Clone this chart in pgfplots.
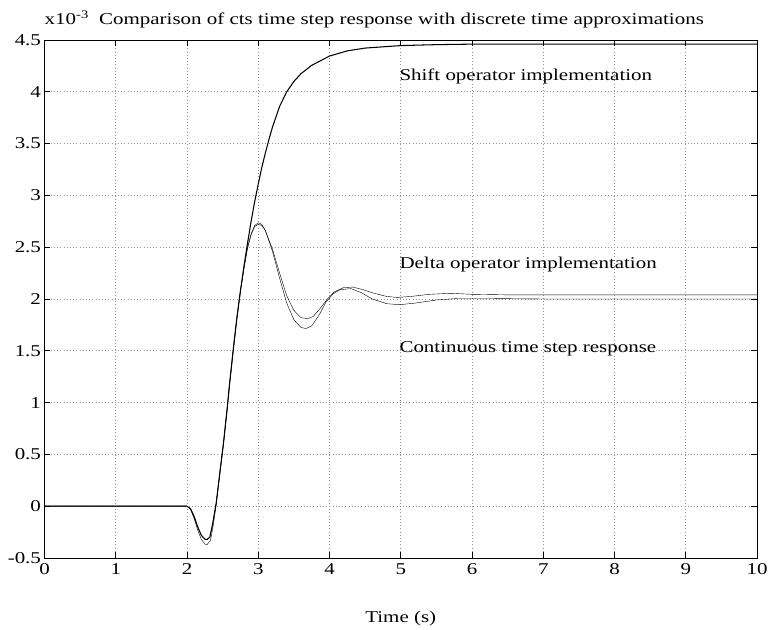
\documentclass[border=0pt]{standalone}
\usepackage{pgfplots}
\pgfplotsset{compat=1.18}
\usepackage{fontspec}
\setmainfont{Liberation Serif}[FakeStretch=1.27]
\newcommand{\fs}{\fontsize{16.5}{19}\selectfont}
\begin{document}
\begin{tikzpicture}
\begin{axis}[name=ax,
  width=712.5pt, height=518pt, scale only axis,
  xmin=0, xmax=10, ymin=-0.5, ymax=4.5,
  xtick={0,1,2,3,4,5,6,7,8,9,10},
  ytick={-0.5,0,0.5,1,1.5,2,2.5,3,3.5,4,4.5},
  yticklabels={-0.5,0,0.5,1,1.5,2,2.5,3,3.5,4,4.5},
  grid=major,
  major grid style={dash pattern=on 0.8pt off 2.4pt, gray!85, line width=0.6pt},
  tick align=inside, major tick length=6pt,
  tick style={black, line width=0.7pt},
  axis line style={line width=0.8pt},
  ticklabel style={font=\fs},
  xticklabel style={yshift=-2pt},
  /pgf/number format/assume math mode=true,
  clip mode=individual,
  cycle list={{black, no markers, line width=1.05pt, smooth, tension=0.45}},
]
% Continuous time step response
\addplot coordinates {(0,0) (1.9,0) (2.0,0) (2.05,-0.03) (2.1,-0.12) (2.15,-0.23) (2.2,-0.32) (2.25,-0.365) (2.28,-0.372) (2.33,-0.33) (2.37,-0.18) (2.41,0.02) (2.46,0.3) (2.51,0.58) (2.56,0.9) (2.6,1.18) (2.65,1.5) (2.7,1.8) (2.75,2.07) (2.8,2.3) (2.85,2.5) (2.9,2.63) (2.95,2.71) (3.0,2.735) (3.05,2.72) (3.1,2.66) (3.2,2.46) (3.3,2.2) (3.4,1.96) (3.5,1.8) (3.6,1.725) (3.67,1.715) (3.75,1.74) (3.85,1.84) (3.95,1.97) (4.05,2.05) (4.15,2.09) (4.3,2.1) (4.45,2.06) (4.6,2.0) (4.8,1.955) (4.98,1.945) (5.2,1.96) (5.5,1.99) (5.8,2.005) (6.2,2.005) (7,2.0) (8.5,2.0) (10,2.0)};
% Delta operator implementation
\addplot coordinates {(0,0) (1.9,0) (2.0,0) (2.05,-0.025) (2.1,-0.1) (2.15,-0.2) (2.2,-0.28) (2.25,-0.318) (2.28,-0.322) (2.32,-0.3) (2.36,-0.17) (2.41,0.03) (2.46,0.32) (2.51,0.6) (2.56,0.92) (2.6,1.2) (2.65,1.52) (2.7,1.82) (2.75,2.08) (2.8,2.3) (2.85,2.49) (2.9,2.62) (2.95,2.7) (3.0,2.72) (3.05,2.71) (3.1,2.66) (3.2,2.48) (3.3,2.25) (3.4,2.03) (3.5,1.89) (3.6,1.82) (3.69,1.81) (3.77,1.83) (3.87,1.91) (3.97,2.0) (4.07,2.07) (4.2,2.11) (4.33,2.115) (4.47,2.09) (4.6,2.06) (4.8,2.025) (4.95,2.015) (5.15,2.025) (5.4,2.045) (5.7,2.055) (6.0,2.045) (6.5,2.04) (7,2.04) (8.5,2.04) (10,2.04)};
% Shift operator implementation
\addplot coordinates {(0,0) (1.9,0) (2.0,0) (2.05,-0.025) (2.1,-0.1) (2.15,-0.2) (2.2,-0.28) (2.25,-0.318) (2.28,-0.322) (2.32,-0.3) (2.36,-0.17) (2.41,0.03) (2.46,0.32) (2.51,0.6) (2.56,0.92) (2.6,1.2) (2.65,1.52) (2.7,1.82) (2.75,2.08) (2.8,2.32) (2.85,2.54) (2.9,2.75) (2.95,2.94) (3.0,3.11) (3.05,3.27) (3.1,3.41) (3.15,3.54) (3.2,3.66) (3.3,3.86) (3.4,4.0) (3.5,4.1) (3.6,4.175) (3.75,4.255) (4.0,4.345) (4.25,4.395) (4.5,4.422) (5.0,4.446) (5.5,4.455) (6,4.46) (7,4.46) (8.5,4.46) (10,4.46)};
\node[anchor=west, inner sep=0pt, font=\fs] at (axis cs:4.98,4.15) {Shift operator implementation};
\node[anchor=west, inner sep=0pt, font=\fs] at (axis cs:4.98,2.33) {Delta operator implementation};
\node[anchor=west, inner sep=0pt, font=\fs] at (axis cs:4.98,1.52) {Continuous time step response};
\end{axis}
\node[anchor=base west, inner sep=0pt, font=\fs] at ([yshift=15pt]ax.north west) {x10\textsuperscript{-3}};
\node[anchor=base west, inner sep=0pt, font=\fs] at ([shift={(54.5pt,15pt)}]ax.north west) {Comparison of cts time step response with discrete time approximations};
\node[anchor=base, inner sep=0pt, font=\fs] at ([yshift=-65pt]ax.south) {Time (s)};
\pgfresetboundingbox
\path ([shift={(-44.5pt,-72pt)}]ax.south west) rectangle ([shift={(11pt,40pt)}]ax.north east);
\end{tikzpicture}
\end{document}
